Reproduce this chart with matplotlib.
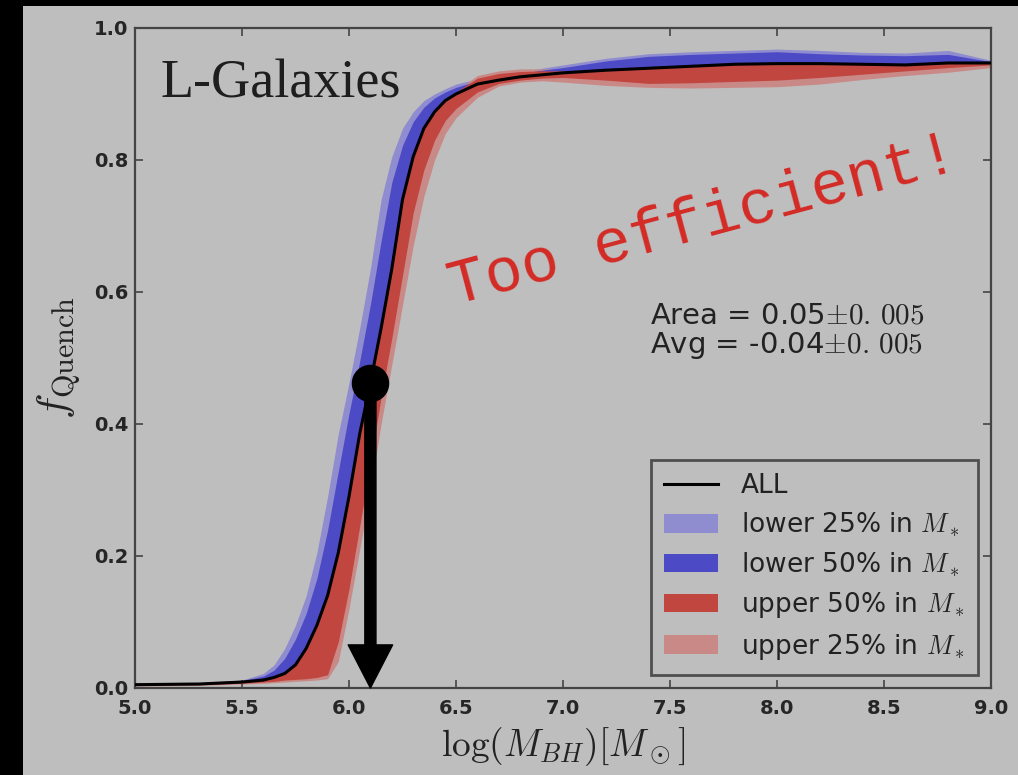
import matplotlib
matplotlib.use('Agg')
import matplotlib.pyplot as plt
from matplotlib.patches import Patch, Rectangle
from matplotlib.lines import Line2D

plt.rcParams['mathtext.fontset'] = 'cm'

# quenched fraction vs black hole mass, whole sample and stellar-mass subsamples
log_mbh = [5.0, 5.3, 5.5, 5.6, 5.65, 5.7, 5.75, 5.8, 5.85, 5.9, 5.95,
           6.0, 6.05, 6.1, 6.15, 6.2, 6.25, 6.3, 6.35, 6.4, 6.45, 6.5,
           6.6, 6.7, 6.8, 6.9, 7.0, 7.2, 7.4, 7.6, 7.8, 8.0, 8.2, 8.4, 8.6, 8.8, 9.0]
frac_all = [.005, .006, .009, .012, .016, .022, .035, .060, .095, .140, .205,
            .290, .385, .462, .545, .635, .740, .805, .848, .873, .890, .900,
            .915, .921, .926, .929, .932, .936, .939, .942, .945, .946, .946, .945, .944, .947, .947]
lower50_hi = [.006, .007, .011, .018, .027, .045, .074, .113, .166, .239, .328,
              .416, .495, .581, .677, .766, .822, .858, .880, .894, .903, .910,
              .920, .926, .931, .936, .940, .950, .957, .960, .962, .964, .961, .959, .958, .960, .949]
lower25_hi = [.006, .008, .012, .022, .035, .060, .095, .140, .205, .290, .385,
              .462, .545, .635, .740, .805, .848, .873, .890, .900, .908, .915,
              .923, .929, .934, .939, .944, .954, .961, .964, .966, .968, .966, .963, .962, .966, .951]
upper50_lo = [.004, .005, .007, .009, .010, .012, .013, .014, .016, .020, .070,
              .150, .245, .340, .440, .530, .625, .720, .785, .830, .860, .878,
              .903, .916, .921, .924, .925, .921, .916, .917, .919, .921, .925, .930, .935, .940, .944]
upper50_hi = [.005, .006, .009, .012, .016, .022, .035, .060, .095, .140, .205,
              .290, .385, .462, .545, .635, .740, .805, .848, .873, .890, .903,
              .924, .931, .934, .935, .935, .937, .939, .942, .945, .946, .946, .945, .944, .947, .947]
upper25_lo = [.003, .004, .006, .007, .008, .009, .010, .011, .012, .014, .040,
              .120, .210, .300, .400, .490, .580, .670, .745, .800, .840, .864,
              .895, .912, .918, .920, .918, .913, .910, .909, .910, .911, .915, .922, .928, .933, .940]
upper25_hi = [.005, .006, .009, .012, .016, .022, .035, .060, .095, .140, .205,
              .290, .385, .462, .545, .635, .740, .805, .848, .873, .890, .905,
              .928, .935, .938, .938, .937, .937, .939, .942, .945, .946, .946, .945, .944, .947, .947]

# characteristic mass where half the galaxies are quenched
half_x = 6.1
half_y = 0.462

x_ticks = [5.0, 5.5, 6.0, 6.5, 7.0, 7.5, 8.0, 8.5, 9.0]
y_ticks = [0.0, 0.2, 0.4, 0.6, 0.8, 1.0]

c_lb = '#8f8cd0'
c_b = '#4d4ac6'
c_r = '#c1463f'
c_lr = '#c98a87'

fig = plt.figure(figsize=(10.18, 7.75), dpi=100, facecolor='black')
fig.add_artist(Rectangle((23 / 1018, 0), 1, 1 - 6 / 775, transform=fig.transFigure,
                         facecolor='#bebebe', edgecolor='none', zorder=0))
ax = fig.add_axes([0.1326, 0.1123, 0.8409, 0.8516])
ax.set_facecolor('none')

ax.fill_between(log_mbh, frac_all, lower25_hi, color=c_lb, lw=0, zorder=1)
ax.fill_between(log_mbh, upper25_lo, upper25_hi, color=c_lr, lw=0, zorder=1)
ax.fill_between(log_mbh, frac_all, lower50_hi, color=c_b, lw=0, zorder=2)
ax.fill_between(log_mbh, upper50_lo, upper50_hi, color=c_r, lw=0, zorder=2)
ax.plot(log_mbh, frac_all, color='black', lw=2.2, zorder=3)

ax.set_xlim(5.0, 9.0)
ax.set_ylim(0.0, 1.0)
ax.set_xticks(x_ticks, ['%.1f' % v for v in x_ticks])
ax.set_yticks(y_ticks, ['%.1f' % v for v in y_ticks])
ax.tick_params(direction='in', top=True, right=True, length=6, width=1.2,
               color='#444444', labelsize=14, labelcolor='#262626')
ax.tick_params(axis='x', pad=8)
ax.tick_params(axis='y', pad=5)
for lbl in ax.get_xticklabels() + ax.get_yticklabels():
    lbl.set_fontweight('bold')
for sp in ax.spines.values():
    sp.set_color('#444444')
    sp.set_linewidth(1.6)

ax.set_xlabel(r'$\log(M_{BH})[M_\odot]$', fontsize=27, labelpad=5, color='#222222')
ax.set_ylabel(r'$f_{\rm Quench}$', fontsize=31, labelpad=8, color='#222222')

ax.text(5.117, 0.895, 'L-Galaxies', family='Liberation Serif', fontsize=39,
        color='#1e1e1e', ha='left', va='baseline')
ax.text(7.407, 0.586, 'Area = 0.05$\\pm0.\\,005$\nAvg = -0.04$\\pm0.\\,005$', fontsize=21,
        color='#222222', ha='left', va='top', linespacing=1.05)
ax.text(7.675, 0.684, 'Too efficient!', family='Liberation Mono', fontsize=45,
        color='#d42a25', rotation=15, rotation_mode='anchor', ha='center', va='baseline')

ax.plot([half_x], [half_y], 'o', color='black', ms=26, zorder=5)
ax.annotate('', xy=(half_x, 0.0), xytext=(half_x, half_y), annotation_clip=False,
            arrowprops=dict(facecolor='black', edgecolor='black', width=8,
                            headwidth=32, headlength=31, shrink=0), zorder=5)

handles = [Line2D([], [], color='black', lw=2.2),
           Patch(facecolor=c_lb, edgecolor='none'),
           Patch(facecolor=c_b, edgecolor='none'),
           Patch(facecolor=c_r, edgecolor='none'),
           Patch(facecolor=c_lr, edgecolor='none')]
labels = ['ALL', r'lower 25% in $M_*$', r'lower 50% in $M_*$',
          r'upper 50% in $M_*$', r'upper 25% in $M_*$']
leg = ax.legend(handles, labels, loc='lower right', fontsize=19, fancybox=False,
                edgecolor='#333333', facecolor='none', labelspacing=0.43,
                handlelength=2.05, handletextpad=0.85, borderaxespad=0.5, borderpad=0.5)
leg.get_frame().set_linewidth(2)
for t in leg.get_texts():
    t.set_color('#222222')

fig.savefig('out.png', dpi=100, facecolor=fig.get_facecolor())
